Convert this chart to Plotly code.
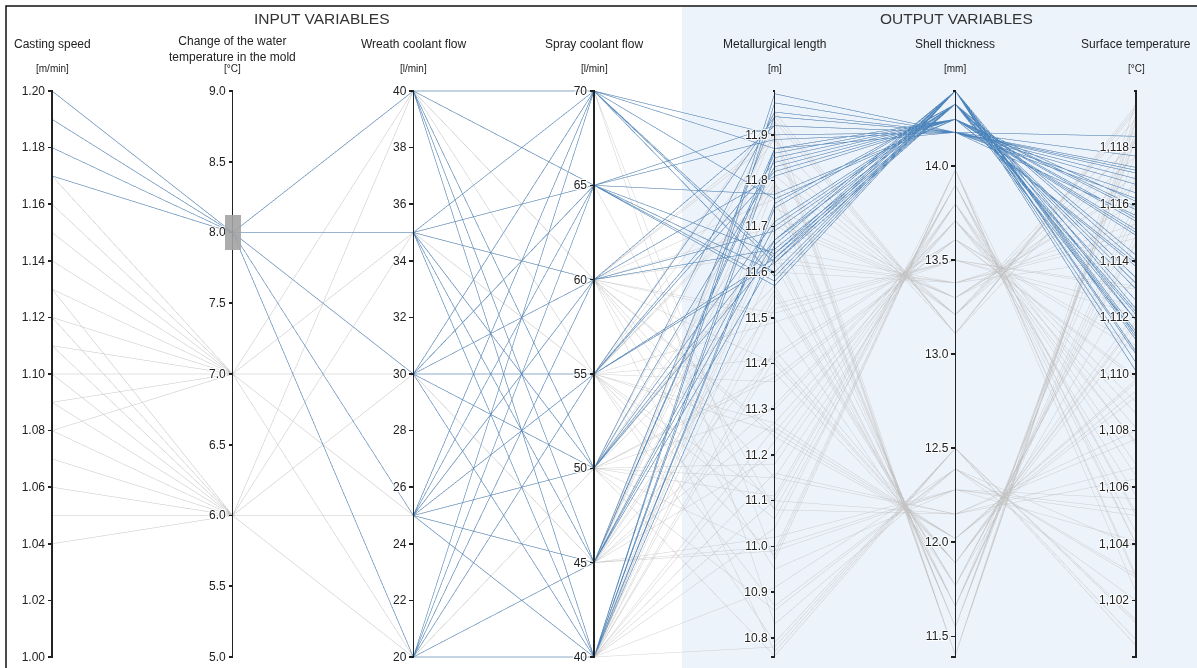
import plotly.graph_objects as go

# ---- experiment table: one row per simulated casting run ----
casting_speed = (
    [1.20] * 10 + [1.19] * 10 + [1.18] * 10 + [1.17] * 10
    + [1.17] * 3 + [1.16] * 3 + [1.15] * 3 + [1.14] * 3 + [1.13] * 3
    + [1.12] * 3 + [1.11] * 3 + [1.10] * 3 + [1.09] * 3 + [1.08] * 3
    + [1.13] * 3 + [1.12] * 3 + [1.11] * 3 + [1.10] * 3 + [1.09] * 3
    + [1.08] * 3 + [1.07] * 3 + [1.06] * 3 + [1.05] * 3 + [1.04] * 3
    + [1.17, 1.16, 1.15, 1.14, 1.13, 1.12, 1.11, 1.10, 1.09, 1.08]
    + [1.13, 1.12, 1.11, 1.10, 1.09, 1.08, 1.07, 1.06, 1.05, 1.04]
)
water_temp_change = [8.0] * 40 + [7.0] * 30 + [6.0] * 30 + [7.0] * 10 + [6.0] * 10
wreath_flow = [
    40, 40, 35, 35, 30, 30, 25, 25, 20, 20,
    40, 40, 35, 35, 30, 30, 25, 25, 20, 20,
    40, 40, 35, 35, 30, 30, 25, 25, 20, 20,
    40, 40, 35, 35, 30, 30, 25, 25, 20, 20,
    40, 30, 20, 35, 25, 40, 30, 20, 35, 25, 40, 30, 20, 35, 25,
    40, 30, 20, 35, 25, 30, 30, 20, 40, 25, 35, 20, 40, 30, 25,
    25, 40, 30, 20, 35, 25, 30, 40, 20, 25, 35, 30, 40, 20, 25,
    35, 30, 40, 20, 25, 35, 30, 40, 20, 25, 35, 30, 40, 20, 25,
    35, 30, 40, 20, 30, 35, 20, 35, 40, 20,
    35, 30, 25, 20, 35, 25, 40, 25, 20, 30,
]
spray_flow = [
    70, 45, 65, 40, 60, 50, 70, 55, 65, 40,
    65, 40, 70, 50, 55, 40, 60, 45, 55, 45,
    50, 70, 60, 45, 65, 70, 40, 50, 60, 40,
    45, 65, 40, 65, 55, 50, 65, 55, 70, 45,
    60, 45, 55, 50, 40, 55, 60, 50, 45, 55, 40, 65, 60, 55, 45,
    50, 40, 45, 60, 50, 55, 45, 40, 60, 60, 40, 50, 45, 55, 70,
    50, 45, 60, 55, 40, 60, 50, 55, 40, 45, 60, 40, 50, 60, 55,
    45, 55, 40, 50, 40, 65, 45, 60, 45, 55, 50, 70, 40, 55, 50,
    45, 45, 40, 50, 40, 55, 45, 50, 55, 40,
    55, 45, 60, 50, 40, 60, 55, 50, 40, 60,
]
metallurgical_length = [
    11.87, 11.94, 11.89, 11.97, 11.92, 11.95, 11.90, 11.94, 11.92, 11.99,
    11.77, 11.85, 11.76, 11.83, 11.82, 11.87, 11.81, 11.86, 11.84, 11.87,
    11.67, 11.62, 11.65, 11.70, 11.64, 11.63, 11.74, 11.71, 11.69, 11.75,
    11.63, 11.57, 11.66, 11.58, 11.62, 11.64, 11.60, 11.63, 11.59, 11.67,
    11.89, 11.94, 11.95, 11.81, 11.85, 11.79, 11.70, 11.74, 11.72, 11.63,
    11.62, 11.60, 11.51, 11.49, 11.53, 11.37, 11.41, 11.42, 11.25, 11.30,
    11.27, 11.20, 11.23, 11.15, 11.08, 11.10, 11.11, 10.99, 10.98, 10.97,
    11.93, 11.91, 11.90, 11.78, 11.79, 11.76, 11.65, 11.62, 11.69, 11.56,
    11.50, 11.55, 11.38, 11.40, 11.41, 11.27, 11.25, 11.26, 11.15, 11.16,
    11.08, 11.00, 10.95, 11.02, 10.87, 10.86, 10.83, 10.78, 10.79, 10.76,
    11.93, 11.83, 11.71, 11.65, 11.52, 11.36, 11.31, 11.18, 11.06, 11.04,
    11.89, 11.80, 11.64, 11.57, 11.43, 11.24, 11.10, 10.99, 10.91, 10.77,
]
shell_thickness = (
    [14.18] * 10 + [14.25] * 10 + [14.33] * 10 + [14.40] * 10
    + [13.11] * 3 + [13.21] * 3 + [13.30] * 3 + [13.38] * 3 + [13.50] * 3
    + [13.61] * 3 + [13.71] * 3 + [13.80] * 3 + [13.90] * 3 + [13.98] * 3
    + [11.40] * 3 + [11.55] * 3 + [11.66] * 3 + [11.77] * 3 + [11.89] * 3
    + [12.02] * 3 + [12.15] * 3 + [12.28] * 3 + [12.39] * 3 + [12.50] * 3
    + [13.11, 13.21, 13.30, 13.38, 13.50, 13.61, 13.71, 13.80, 13.90, 13.98]
    + [11.40, 11.55, 11.66, 11.77, 11.89, 12.02, 12.15, 12.28, 12.39, 12.50]
)
surface_temperature = [
    1115.6, 1117.1, 1116.2, 1117.7, 1116.7, 1117.3, 1116.4, 1117.2, 1116.9, 1118.4,
    1113.9, 1115.4, 1113.8, 1115.1, 1115.0, 1115.9, 1114.9, 1115.8, 1115.5, 1116.1,
    1112.6, 1111.4, 1112.2, 1113.2, 1112.1, 1111.9, 1114.0, 1113.4, 1113.0, 1114.2,
    1111.3, 1110.1, 1111.9, 1110.4, 1111.2, 1111.5, 1110.8, 1111.4, 1110.7, 1112.3,
    1118.3, 1119.5, 1119.4, 1118.2, 1119.0, 1117.7, 1116.0, 1117.0, 1116.6, 1114.8,
    1115.0, 1114.1, 1112.4, 1112.1, 1113.0, 1109.9, 1110.8, 1111.0, 1107.6, 1108.6,
    1108.1, 1106.8, 1107.5, 1105.7, 1104.4, 1105.0, 1105.1, 1102.9, 1102.8, 1102.3,
    1119.6, 1119.2, 1118.9, 1118.3, 1118.4, 1117.8, 1116.1, 1115.5, 1117.0, 1114.6,
    1113.5, 1114.7, 1111.5, 1111.8, 1111.9, 1109.7, 1109.4, 1109.8, 1107.7, 1108.0,
    1106.3, 1105.2, 1104.1, 1105.6, 1102.9, 1102.8, 1102.0, 1101.2, 1101.3, 1100.4,
    1119.3, 1118.6, 1116.7, 1115.3, 1113.1, 1109.8, 1109.0, 1106.4, 1104.0, 1104.0,
    1119.0, 1118.6, 1115.8, 1114.9, 1112.2, 1109.2, 1106.7, 1105.0, 1103.9, 1100.6,
]

# ---- axis ranges and ticks ----
speed_range = [1.00, 1.20]
temp_range = [5.0, 9.0]
wreath_range = [20, 40]
spray_range = [40, 70]
length_range = [10.758, 11.996]
shell_range = [11.39, 14.40]
surface_range = [1100.0, 1120.0]

speed_ticks = [1.00, 1.02, 1.04, 1.06, 1.08, 1.10, 1.12, 1.14, 1.16, 1.18, 1.20]
temp_ticks = [5.0, 5.5, 6.0, 6.5, 7.0, 7.5, 8.0, 8.5, 9.0]
wreath_ticks = [20, 22, 24, 26, 28, 30, 32, 34, 36, 38, 40]
spray_ticks = [40, 45, 50, 55, 60, 65, 70]
length_ticks = [10.8, 10.9, 11.0, 11.1, 11.2, 11.3, 11.4, 11.5, 11.6, 11.7, 11.8, 11.9]
shell_ticks = [11.5, 12.0, 12.5, 13.0, 13.5, 14.0]
surface_ticks = [1102, 1104, 1106, 1108, 1110, 1112, 1114, 1116, 1118]

# brushed interval on the water-temperature axis
temp_brush = [7.91, 8.09]

axis_titles = [
    "Casting speed",
    "Change of the water<br>temperature in the mold",
    "Wreath coolant flow",
    "Spray coolant flow",
    "Metallurgical length",
    "Shell thickness",
    "Surface temperature",
]
axis_units = ["[m/min]", "[°C]", "[l/min]", "[l/min]", "[m]", "[mm]", "[°C]"]

FONT = "Liberation Sans, Arial, sans-serif"


def with_ends(rng, ticks, fmt):
    """Tick list padded with unlabelled marks at both ends of the axis."""
    vals = list(ticks)
    text = [fmt(v) for v in ticks]
    if rng[0] not in vals:
        vals.insert(0, rng[0])
        text.insert(0, "")
    if rng[1] not in vals:
        vals.append(rng[1])
        text.append("")
    return vals, text


def dim(values, rng, ticks, fmt, **extra):
    tv, tt = with_ends(rng, ticks, fmt)
    return dict(label="", values=values, range=rng, tickvals=tv, ticktext=tt, **extra)


dimensions = [
    dim(casting_speed, speed_range, speed_ticks, lambda v: f"{v:.2f}"),
    dim(water_temp_change, temp_range, temp_ticks, lambda v: f"{v:.1f}",
        constraintrange=temp_brush),
    dim(wreath_flow, wreath_range, wreath_ticks, lambda v: str(v)),
    dim(spray_flow, spray_range, spray_ticks, lambda v: str(v)),
    dim(metallurgical_length, length_range, length_ticks, lambda v: f"{v:.1f}"),
    dim(shell_thickness, shell_range, shell_ticks, lambda v: f"{v:.1f}"),
    dim(surface_temperature, surface_range, surface_ticks, lambda v: f"{v:,}"),
]

fig = go.Figure(go.Parcoords(
    dimensions=dimensions,
    line=dict(color="#4a84bd"),
    unselected=dict(line=dict(color="#c6c6c6", opacity=0.8)),
    tickfont=dict(family=FONT, size=12, color="#222"),
    rangefont=dict(size=1, color="rgba(0,0,0,0)"),
    labelfont=dict(size=1, color="rgba(0,0,0,0)"),
))

PLOT_TOP, PLOT_H = 89, 570
LEFT, WIDTH = 52, 1084


def ypaper(px):
    return 1 + (PLOT_TOP - px) / PLOT_H


def xpaper(px):
    return (px - LEFT) / WIDTH


annotations = []
n_axes = len(axis_titles)
for i, (title, unit) in enumerate(zip(axis_titles, axis_units)):
    x = i / (n_axes - 1)
    two_line = "<br>" in title
    annotations.append(dict(
        x=x, y=ypaper(49.5 if two_line else 44), xref="paper", yref="paper",
        text=title, showarrow=False, xanchor="center", yanchor="middle",
        font=dict(family=FONT, size=12, color="#222"),
    ))
    annotations.append(dict(
        x=x, y=ypaper(68), xref="paper", yref="paper",
        text=unit, showarrow=False, xanchor="center", yanchor="middle",
        font=dict(family=FONT, size=10, color="#222"),
    ))

for text, xc in [("INPUT VARIABLES", 322), ("OUTPUT VARIABLES", 956)]:
    annotations.append(dict(
        x=xpaper(xc), y=ypaper(18), xref="paper", yref="paper", text=text,
        showarrow=False, xanchor="center", yanchor="middle",
        font=dict(family=FONT, size=15.5, color="#333"),
    ))

shapes = [
    # shaded panel behind the output variables
    dict(type="rect", xref="paper", yref="paper", layer="below",
         x0=xpaper(682), x1=xpaper(1200), y0=ypaper(670), y1=ypaper(7),
         fillcolor="#edf3fb", line=dict(width=0)),
    # outer frame
    dict(type="rect", xref="paper", yref="paper", layer="above",
         x0=xpaper(6), x1=xpaper(1205), y0=ypaper(675), y1=ypaper(6),
         fillcolor="rgba(0,0,0,0)", line=dict(color="#111", width=1.5)),
]

fig.update_layout(
    width=1197, height=668,
    margin=dict(l=52, r=61, t=89, b=9),
    paper_bgcolor="white",
    plot_bgcolor="white",
    annotations=annotations,
    shapes=shapes,
)

axis_style = """
var s = document.createElement('style');
s.textContent =
  'g.axis path.domain, g.axis .tick line {stroke:#222 !important; stroke-opacity:1 !important; stroke-width:1.6px !important;}' +
  '.highlight {stroke:#a3a3a3 !important; stroke-width:16px !important; opacity:0.9 !important;}' +
  '.highlight-shadow {stroke-opacity:0 !important;}';
document.head.appendChild(s);
"""

fig.write_html("out.html", post_script=axis_style)
